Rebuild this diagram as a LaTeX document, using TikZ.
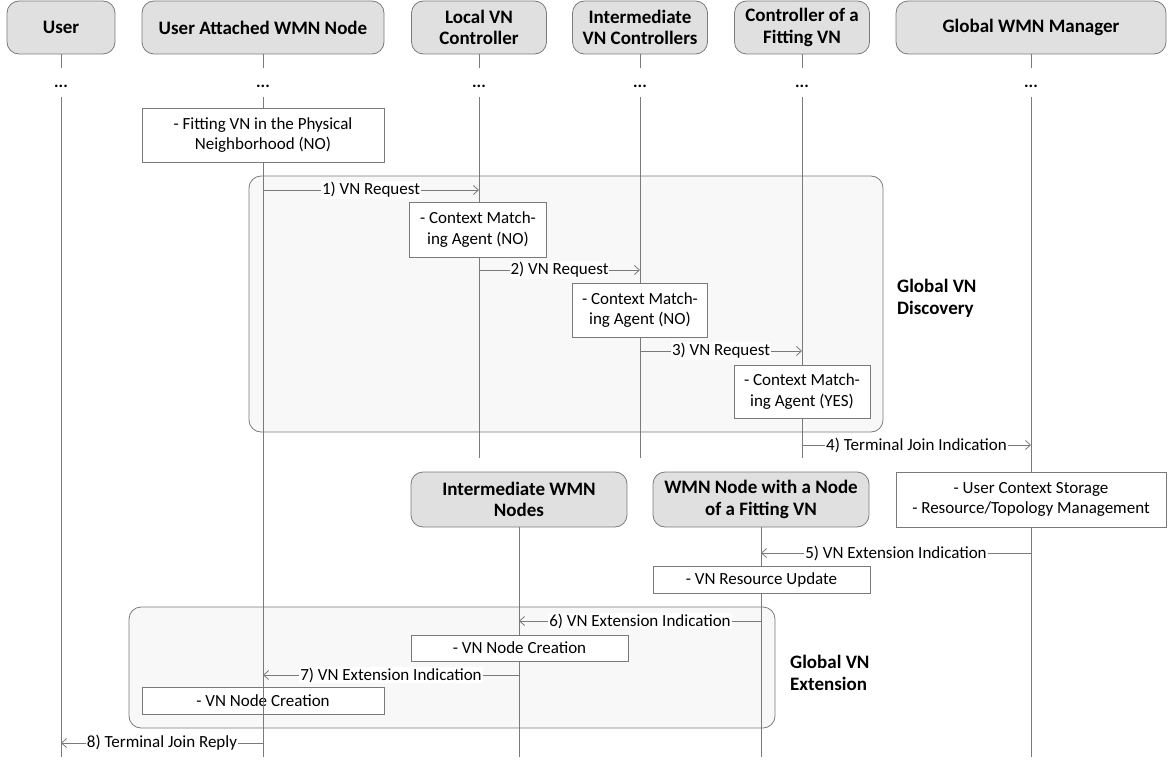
\documentclass[tikz,border=0pt]{standalone}
\usepackage{fontspec}
\setmainfont{Carlito}
\usetikzlibrary{arrows.meta}
\definecolor{linegray}{HTML}{7A7A7A}
\definecolor{headfill}{HTML}{E0E0E0}
\definecolor{groupfill}{HTML}{F8F8F8}
\begin{document}
\begin{tikzpicture}[x=1pt,y=-1pt,
  every node/.style={font=\fontsize{17}{20.5}\selectfont, inner sep=0pt},
  head/.style={draw=linegray, fill=headfill, rounded corners=12pt, align=center,
    font=\fontsize{19}{21.5}\selectfont\bfseries, line width=0.8pt},
  note/.style={draw=linegray, fill=white, align=center, line width=0.8pt},
  grp/.style={draw=linegray, fill=groupfill, rounded corners=12pt, line width=0.8pt},
  grplbl/.style={align=left, anchor=west, font=\fontsize{19}{22}\selectfont\bfseries},
  gap/.style={font=\fontsize{17}{20.5}\selectfont\bfseries},
  life/.style={draw=linegray, line width=0.8pt},
  msg/.style={draw=linegray, line width=0.8pt, -{Straight Barb[length=5pt,width=9pt]}},
  lbl/.style={fill=white, inner sep=1pt}
]
\useasboundingbox (0,0) rectangle (1172,760);

% ---------- group frames ----------
\node[grp, minimum width=634, minimum height=256] (gDisc) at (566,304) {};
\node[grplbl] (lDisc) at (897,298) {Global VN\\Discovery};
\node[grp, minimum width=646, minimum height=121] (gExt) at (452,667.5) {};
\node[grplbl] (lExt) at (790,673) {Global VN\\Extension};

% this note lies under the lifeline
\node[note, minimum width=242, minimum height=27] (nCre2) at (263,700.5) {- VN Node Creation};

% ---------- participants ----------
\node[head, minimum width=108, minimum height=53] (hUser) at (61,27.5) {User};
\node[head, minimum width=242, minimum height=53] (hUAWN) at (263,27.5) {User Attached WMN Node};
\node[head, minimum width=135, minimum height=53] (hLVC) at (479,27.5) {Local VN\\Controller};
\node[head, minimum width=135, minimum height=53] (hIVC) at (640,27.5) {Intermediate\\VN Controllers};
\node[head, minimum width=135, minimum height=53] (hCFV) at (802,27.5) {Controller of a\\Fitting VN};
\node[head, minimum width=270, minimum height=53] (hGWM) at (1031,27.5) {Global WMN Manager};

\node[gap] (dUser) at (61,86) {...};
\node[gap] (dUAWN) at (263,86) {...};
\node[gap] (dLVC) at (479,86) {...};
\node[gap] (dIVC) at (640,86) {...};
\node[gap] (dCFV) at (802,86) {...};
\node[gap] (dGWM) at (1031,86) {...};

\coordinate (eUser) at (61,757);
\coordinate (eUAWN) at (263,757);
\coordinate (eLVC) at (479,458);
\coordinate (eIVC) at (640,458);
\coordinate (eCFV) at (802,458);
\coordinate (eGWM) at (1031,757);
\coordinate (eIWN) at (519,757);
\coordinate (eWNN) at (761,757);

% ---------- lifelines ----------
\foreach \h/\e in {hUser/eUser, hUAWN/eUAWN, hLVC/eLVC, hIVC/eIVC, hCFV/eCFV, hGWM/eGWM}
  \draw[life] (\h.south) -- ++(0,14) (\h.south) ++(0,43) -- (\e);

% ---------- second row participants ----------
\node[head, minimum width=216, minimum height=55] (hIWN) at (519,499.5) {Intermediate WMN\\Nodes};
\node[head, minimum width=216, minimum height=55] (hWNN) at (761,499.5) {WMN Node with a Node\\of a Fitting VN};
\draw[life] (hIWN.south) -- (eIWN);
\draw[life] (hWNN.south) -- (eWNN);

% ---------- notes ----------
\node[note, minimum width=242, minimum height=54] (nFit) at (263,135) {- Fitting VN in the Physical\\Neighborhood (NO)};
\node[note, minimum width=137, minimum height=55] (nCMA1) at (478,229.5) {- Context Match-\\ing Agent (NO)};
\node[note, minimum width=135, minimum height=54] (nCMA2) at (640,310) {- Context Match-\\ing Agent (NO)};
\node[note, minimum width=136, minimum height=53] (nCMA3) at (802,391.5) {- Context Match-\\ing Agent (YES)};
\node[note, minimum width=270, minimum height=55] (nGWM) at (1031,499.5) {- User Context Storage\\- Resource/Topology Management};
\node[note, minimum width=217, minimum height=27] (nRes) at (761.5,579.5) {- VN Resource Update};
\node[note, minimum width=217, minimum height=26] (nCre1) at (519.5,648) {- VN Node Creation};

% ---------- messages ----------
\coordinate (m1a) at (263,190);  \coordinate (m1b) at (479,190);
\coordinate (m2a) at (479,270);  \coordinate (m2b) at (640,270);
\coordinate (m3a) at (640,351);  \coordinate (m3b) at (802,351);
\coordinate (m4a) at (802,445);  \coordinate (m4b) at (1031,445);
\coordinate (m5a) at (1031,553); \coordinate (m5b) at (761,553);
\coordinate (m6a) at (761,621);  \coordinate (m6b) at (519,621);
\coordinate (m7a) at (519,675);  \coordinate (m7b) at (263,675);
\coordinate (m8a) at (263,743);  \coordinate (m8b) at (61,743);

\draw[msg] (m1a) -- node[lbl] {1) VN Request} (m1b);
\draw[msg] (m2a) -- node[lbl] {2) VN Request} (m2b);
\draw[msg] (m3a) -- node[lbl] {3) VN Request} (m3b);
\draw[msg] (m4a) -- node[lbl] {4) Terminal Join Indication} (m4b);
\draw[msg] (m5a) -- node[lbl] {5) VN Extension Indication} (m5b);
\draw[msg] (m6a) -- node[lbl] {6) VN Extension Indication} (m6b);
\draw[msg] (m7a) -- node[lbl] {7) VN Extension Indication} (m7b);
\draw[msg] (m8a) -- node[lbl] {8) Terminal Join Reply} (m8b);
\end{tikzpicture}
\end{document}
